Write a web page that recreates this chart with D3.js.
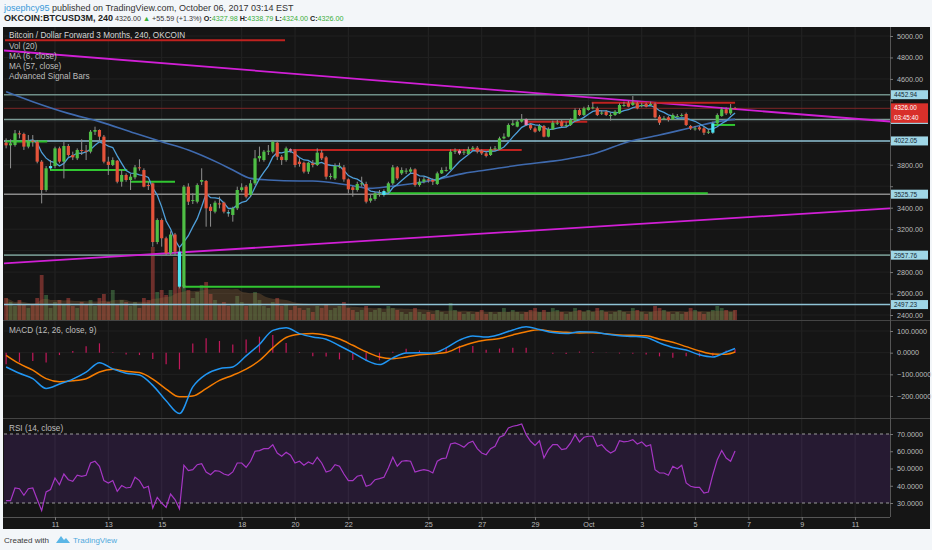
<!DOCTYPE html>
<html>
<head>
<meta charset="utf-8">
<script src="https://cdn.jsdelivr.net/npm/d3@7"></script>
<style>
  body { margin: 0; background: #f3f6f9; font-family: "Liberation Sans", Arial, sans-serif; }
  svg text { font-family: "Liberation Sans", Arial, sans-serif; }
</style>
</head>
<body>
<svg id="chart" width="932" height="550"></svg>
<script>
// ---- data (240 min bars, first bar Sep 9 04:00) ----
var firstBar = "2017-09-09T04:00";
var barHours = 4;

var openP = [4006,3981,3984,4093,4087,3969,4025,4015,3829,3565,
  3767,3788,3953,3829,3975,3891,3860,3938,3931,3922,
  4108,4124,4062,3829,3798,3838,3642,3705,3658,3683,
  3776,3751,3611,3627,3080,3285,3115,2975,3150,2990,
  2664,3596,3465,3456,3642,3649,3409,3363,3440,3447,
  3357,3332,3394,3565,3596,3518,3627,3860,3844,3922,
  3922,4006,3875,3844,3944,3931,3829,3819,3736,3813,
  3798,3913,3869,3689,3673,3788,3776,3664,3590,3565,
  3621,3621,3465,3481,3534,3518,3549,3627,3776,3720,
  3745,3736,3757,3611,3642,3664,3658,3621,3720,3751,
  3757,3922,3931,3913,3900,3944,3959,3931,3906,3891,
  3944,3944,4046,4062,4171,4155,4202,4223,4171,4139,
  4118,4161,4062,4130,4192,4202,4171,4171,4211,4310,
  4264,4310,4335,4326,4279,4295,4264,4264,4279,4357,
  4373,4357,4373,4357,4366,4366,4366,4248,4233,4242,
  4223,4254,4264,4273,4161,4139,4149,4139,4108,4099,
  4186,4254,4317,4279,4328];
var highP = [4046,4037,4124,4118,4099,4077,4077,4031,3844,3788,
  3844,3969,3969,4015,3993,3922,3953,4037,3984,4124,
  4155,4130,4077,3875,3869,3844,3751,3720,3714,3798,
  3851,3767,3642,3633,3301,3300,3130,3180,3165,3030,
  3611,3627,3534,3627,3767,3658,3434,3465,3503,3456,
  3378,3409,3596,3627,3611,3658,3938,3969,3938,3984,
  4031,4025,3891,3969,3953,3944,3860,3829,3829,3844,
  3953,3938,3882,3720,3813,3819,3798,3673,3602,3642,
  3689,3642,3518,3549,3565,3571,3642,3798,3788,3776,
  3767,3776,3767,3673,3689,3683,3673,3736,3776,3782,
  3944,3953,3944,3944,3969,3975,3975,3944,3922,3969,
  3975,4062,4093,4186,4223,4223,4273,4233,4186,4155,
  4180,4171,4149,4211,4223,4217,4202,4233,4326,4326,
  4341,4357,4379,4341,4310,4310,4286,4310,4373,4388,
  4397,4441,4388,4379,4379,4388,4379,4264,4254,4254,
  4279,4273,4279,4286,4171,4161,4161,4155,4130,4202,
  4279,4335,4335,4366,4339];
var lowP = [3953,3767,3969,4046,3938,3953,3969,3813,3440,3549,
  3751,3767,3813,3673,3875,3844,3844,3891,3844,3906,
  4077,4015,3813,3705,3788,3627,3596,3642,3565,3664,
  3745,3590,3565,3037,3060,3037,2959,2959,2959,2648,
  2648,3425,3434,3440,3611,3223,3223,3347,3394,3347,
  3316,3270,3378,3549,3487,3503,3611,3829,3829,3891,
  3906,3844,3798,3829,3913,3776,3782,3720,3714,3776,
  3788,3844,3664,3664,3658,3767,3642,3534,3503,3549,
  3596,3440,3447,3465,3503,3503,3534,3611,3658,3705,
  3714,3720,3596,3596,3627,3633,3611,3611,3714,3736,
  3751,3900,3891,3891,3891,3938,3906,3891,3869,3882,
  3931,3938,4037,4056,4161,4149,4192,4161,4124,4099,
  4108,4056,4056,4124,4171,4149,4149,4161,4202,4254,
  4254,4304,4317,4254,4264,4254,4211,4254,4273,4341,
  4335,4348,4317,4335,4335,4348,4233,4171,4217,4202,
  4217,4242,4248,4161,4124,4118,4118,4077,4087,4087,
  4180,4248,4264,4264,4324];
var closeP = [3981,4000,4093,4087,3969,4025,4015,3829,3565,3767,
  3788,3953,3829,3975,3891,3869,3938,3931,3922,4108,
  4124,4062,3829,3798,3844,3642,3705,3658,3689,3776,
  3767,3596,3602,3080,3285,3115,2975,3150,2990,2664,
  3596,3456,3471,3611,3658,3394,3369,3447,3434,3363,
  3347,3394,3565,3590,3503,3627,3860,3882,3922,3931,
  4015,3875,3844,3953,3931,3798,3807,3736,3819,3798,
  3913,3860,3689,3695,3788,3788,3664,3571,3565,3621,
  3627,3456,3487,3534,3534,3555,3627,3776,3673,3751,
  3745,3757,3611,3642,3664,3658,3642,3720,3751,3751,
  3922,3931,3906,3922,3944,3959,3922,3906,3882,3944,
  3953,4046,4062,4171,4186,4202,4223,4171,4139,4108,
  4161,4062,4130,4192,4192,4161,4171,4217,4310,4264,
  4326,4335,4335,4264,4286,4264,4264,4295,4357,4357,
  4341,4379,4326,4357,4341,4366,4242,4192,4233,4217,
  4264,4254,4264,4171,4139,4139,4130,4099,4108,4186,
  4264,4317,4279,4328,4326];
var volume = [2200,1800,1400,2000,1600,1200,1500,2200,4500,2500,
  1200,1800,2000,1500,2200,1400,1200,1800,1600,2000,
  1400,2200,2600,1800,3000,1600,2000,1800,1400,1800,
  1200,2200,2000,7300,2800,3000,2500,3000,6300,5000,
  3500,3000,2200,2800,3500,3800,2600,2000,1500,1800,
  1400,1600,2400,1800,1400,1600,2800,2000,1400,1200,
  1800,2200,1400,1600,1000,1400,1200,1000,1200,800,
  1400,1200,1600,1000,1200,1400,1800,1200,1000,800,
  1000,1400,800,1000,1200,800,1400,1200,1000,800,
  600,800,1200,800,600,800,600,1000,800,600,
  1700,1000,800,600,800,600,800,1000,600,800,
  600,800,1200,800,1000,800,600,800,1000,1200,
  800,1000,800,1200,1000,800,600,800,1200,1000,
  800,1000,800,1200,1000,800,600,800,1000,800,
  600,1200,1000,800,600,800,1400,1200,1000,800,
  600,800,600,800,1200,1000,800,600,800,1000,
  1400,1200,1000,800,1000];
// Advanced Signal Bars: bars painted cyan / pink
var cyanBars = [10, 39, 50, 85, 159];
var pinkBars = [64, 102, 117];

// MA (57): bar index -> value
var ma57Idx = [0,6,14,21,29,35,41,48,51,55,59,66,69,77,82,86,92,98,103,108,114,122,125,129,132,140,147,155,160,164];
var ma57Val = [4481,4388,4279,4202,4093,4015,3938,3813,3751,3673,3658,3649,3649,3611,3580,3596,3627,3673,3720,3751,3788,3829,3844,3875,3900,4015,4077,4155,4202,4223];

// MACD (12,26,9) read every third bar
var macdIdx = [0,3,6,9,12,15,18,21,24,27,30,33,36,39,42,45,48,51,54,57,60,63,66,69,72,75,78,81,84,87,90,93,96,99,102,105,108,111,114,117,120,123,126,129,132,135,138,141,144,147,150,153,156,159,162,164];
var macdVal = [-66,-95,-120,-165,-145,-122,-90,-46,-75,-95,-103,-151,-222,-281,-158,-100,-74,-66,-15,38,103,115,88,72,62,32,0,-35,-55,-24,-2,0,-2,22,58,77,72,84,105,120,107,93,88,96,95,86,78,75,70,45,24,12,-10,-20,3,19];
var signalVal = [-12,-51,-81,-120,-134,-130,-120,-89,-77,-86,-92,-122,-168,-204,-200,-166,-128,-104,-76,-36,22,70,85,88,80,63,34,4,-20,-28,-20,-10,-5,1,26,46,58,65,82,97,106,98,94,91,92,87,82,80,78,62,48,28,8,-6,-7,3];

// RSI (14) per bar
var rsiVal = [31.4,31.4,38.7,38.3,34.5,38.3,38.7,32.0,25.6,36.4,
  37.8,44.5,40.6,46.8,43.5,42.6,46.1,45.5,46.1,53.2,
  54.2,51.3,43.0,41.6,43.0,36.8,40.1,38.7,39.1,44.9,
  43.0,38.7,39.7,27.1,33.3,30.0,27.5,35.2,32.0,26.6,
  51.9,48.8,49.3,52.2,52.8,48.0,46.4,48.8,48.4,46.8,
  46.1,48.0,53.2,53.2,50.7,54.2,60.0,60.4,61.5,61.5,
  63.8,59.0,57.1,59.4,57.7,53.2,54.2,51.9,53.8,52.6,
  56.5,53.2,48.0,48.8,52.2,51.3,46.8,43.0,43.0,45.5,
  46.1,39.7,40.6,43.5,44.1,44.9,50.3,56.5,51.3,54.2,
  54.6,54.2,48.0,48.8,49.3,48.8,47.4,54.2,55.7,56.1,
  64.2,64.8,63.8,62.3,64.8,65.8,61.5,59.0,58.0,61.5,
  62.9,68.1,69.3,73.5,74.5,75.0,75.8,69.6,65.8,63.4,
  66.1,56.1,60.9,63.8,63.8,60.9,61.5,64.8,69.6,65.4,
  68.1,68.7,68.7,62.9,63.8,60.9,59.0,60.4,66.1,65.4,
  65.8,66.7,64.2,65.4,62.9,63.8,49.3,47.4,47.4,46.1,
  51.3,49.9,51.9,41.6,39.7,39.1,39.1,35.8,36.4,46.4,
  55.1,60.4,56.1,54.2,60.2];

// drawings on the chart
var levels = [4452.94, 4222.17, 4022.05, 3525.75, 2957.76, 2497.23];
var lastPrice = 4326.00;
var countdown = "03:45:40";
var trendFrom = ["2017-09-09T02:06", "2017-09-09T02:06"];
var trendTo = ["2017-10-12T07:26", "2017-10-12T07:26"];
var trendP0 = [4865, 2881];
var trendP1 = [4203, 3394];
var redSegFrom = ["2017-09-09T03:00", "2017-09-19T22:00", "2017-09-28T17:00", "2017-10-01T03:00"];
var redSegTo = ["2017-09-19T15:00", "2017-09-28T12:00", "2017-09-30T23:00", "2017-10-06T12:00"];
var redSegP = [4960, 3938, 4202, 4379];
var greenSegFrom = ["2017-09-09T03:00", "2017-09-10T19:30", "2017-09-13T19:30", "2017-09-15T19:00", "2017-09-23T07:00", "2017-10-05T16:00"];
var greenSegTo = ["2017-09-10T17:00", "2017-09-13T17:00", "2017-09-15T12:00", "2017-09-23T04:30", "2017-10-05T11:30", "2017-10-06T12:00"];
var greenSegP = [4018, 3751, 3642, 2664, 3534, 4171];

// axes
var priceTicks = [2400, 2600, 2800, 3000, 3200, 3400, 3600, 3800, 4000, 4200, 4400, 4600, 4800, 5000];
var macdTicks = [100, 0, -100, -200];
var rsiTicks = [70, 60, 50, 40, 30];
var dayTicks = ["2017-09-11", "2017-09-13", "2017-09-15", "2017-09-18", "2017-09-20", "2017-09-22", "2017-09-25",
  "2017-09-27", "2017-09-29", "2017-10-01", "2017-10-03", "2017-10-05", "2017-10-07", "2017-10-09", "2017-10-11"];
var dayLabels = ["11", "13", "15", "18", "20", "22", "25", "27", "29", "Oct", "3", "5", "7", "9", "11"];

// ---- layout ----
var plotL = 4, plotR = 890;
var priceTop = 27, priceBot = 320;
var macdTop = 321, macdBot = 418;
var rsiTop = 419, rsiBot = 517;

var parseT = d3.utcParse("%Y-%m-%dT%H:%M");
var parseD = d3.utcParse("%Y-%m-%d");
var t0 = parseT(firstBar).getTime();
var barTime = function(i) { return new Date(t0 + i * barHours * 3600000); };

var x = d3.scaleUtc()
  .domain([parseT("2017-09-09T02:06"), parseT("2017-10-12T07:26")])
  .range([plotL, plotR]);
var yP = d3.scaleLinear().domain([2400, 5000]).range([315, 36]);
var yV = d3.scaleLinear().domain([0, 7300]).range([priceBot, priceBot - 73]);
var yM = d3.scaleLinear().domain([-200, 100]).range([396, 331]);
var yR = d3.scaleLinear().domain([30, 70]).range([503, 434]);

var svg = d3.select("#chart");

// header
var head1 = svg.append("text").attr("x", 4).attr("y", 10.5).attr("font-size", "9px").attr("fill", "#333");
head1.append("tspan").attr("fill", "#3a9ad9").text("josephcy95");
head1.append("tspan").text(" published on TradingView.com, October 06, 2017 03:14 EST");

var head2 = svg.append("text").attr("x", 4).attr("y", 21).attr("font-size", "7.2px").attr("fill", "#333");
head2.append("tspan").attr("font-weight", "bold").attr("font-size", "9px").attr("fill", "#222").text("OKCOIN:BTCUSD3M, 240");
head2.append("tspan").text(" 4326.00 ");
head2.append("tspan").attr("fill", "#3aae3a").text("\u25B2");
head2.append("tspan").text(" +55.59 (+1.3%) ");
[["O:", "4327.98 "], ["H:", "4338.79 "], ["L:", "4324.00 "], ["C:", "4326.00"]].forEach(function(p) {
  head2.append("tspan").attr("font-weight", "bold").attr("fill", "#222").text(p[0]);
  head2.append("tspan").attr("fill", "#3aae3a").text(p[1]);
});

// dark chart background
svg.append("rect").attr("x", 3).attr("y", priceTop).attr("width", 927).attr("height", 502).attr("fill", "#151515");

// clip paths for the panes
var defs = svg.append("defs");
defs.append("clipPath").attr("id", "clipPrice").append("rect")
  .attr("x", plotL).attr("y", priceTop).attr("width", plotR - plotL).attr("height", priceBot - priceTop);
defs.append("clipPath").attr("id", "clipMacd").append("rect")
  .attr("x", plotL).attr("y", macdTop).attr("width", plotR - plotL).attr("height", macdBot - macdTop);
defs.append("clipPath").attr("id", "clipRsi").append("rect")
  .attr("x", plotL).attr("y", rsiTop).attr("width", plotR - plotL).attr("height", rsiBot - rsiTop);

// vertical grid
var dayDates = dayTicks.map(parseD);
svg.append("g").selectAll("line").data(dayDates).enter().append("line")
  .attr("x1", d => x(d)).attr("x2", d => x(d))
  .attr("y1", priceTop).attr("y2", rsiBot)
  .attr("stroke", "#242424").attr("stroke-width", 1);

// horizontal grid
svg.append("g").selectAll("line").data(priceTicks).enter().append("line")
  .attr("x1", plotL).attr("x2", plotR).attr("y1", d => yP(d)).attr("y2", d => yP(d))
  .attr("stroke", "#212121");
svg.append("g").selectAll("line").data(macdTicks).enter().append("line")
  .attr("x1", plotL).attr("x2", plotR).attr("y1", d => yM(d)).attr("y2", d => yM(d))
  .attr("stroke", "#212121");

// ---------- price pane ----------
var price = svg.append("g").attr("clip-path", "url(#clipPrice)");
var bars = d3.range(closeP.length);

// volume
price.append("g").selectAll("rect").data(bars).enter().append("rect")
  .attr("x", i => x(barTime(i)) - 1.9)
  .attr("width", 3.8)
  .attr("y", i => yV(volume[i]))
  .attr("height", i => yV(0) - yV(volume[i]))
  .attr("fill", i => closeP[i] >= openP[i] ? "rgba(90,160,90,0.42)" : "rgba(220,80,70,0.45)");

// volume MA(20) as an area
var volMa = bars.map(function(i) {
  var s = d3.max([0, i - 19]);
  return d3.mean(volume.slice(s, i + 1));
});
price.append("path")
  .datum(bars)
  .attr("d", d3.area().x(i => x(barTime(i))).y0(yV(0)).y1(i => yV(volMa[i])).curve(d3.curveMonotoneX))
  .attr("fill", "rgba(140,100,60,0.35)");

// level lines
var levelColors = ["#6f8f88", "#7d9c97", "#8fc3d6", "#8a8a8a", "#6f8f88", "#8fc3d6"];
price.append("g").selectAll("line").data(levels).enter().append("line")
  .attr("x1", plotL).attr("x2", plotR)
  .attr("y1", d => yP(d)).attr("y2", d => yP(d))
  .attr("stroke", (d, i) => levelColors[i]).attr("stroke-width", 1.6);

// last price line
price.append("line").attr("x1", plotL).attr("x2", plotR)
  .attr("y1", yP(lastPrice)).attr("y2", yP(lastPrice))
  .attr("stroke", "#7d2626").attr("stroke-width", 1);

// trend lines
price.append("g").selectAll("line").data(trendP0).enter().append("line")
  .attr("x1", (d, i) => x(parseT(trendFrom[i]))).attr("y1", (d, i) => yP(trendP0[i]))
  .attr("x2", (d, i) => x(parseT(trendTo[i]))).attr("y2", (d, i) => yP(trendP1[i]))
  .attr("stroke", "#d11fd6").attr("stroke-width", 1.8);

// red and green segments
price.append("g").selectAll("line").data(redSegP).enter().append("line")
  .attr("x1", (d, i) => x(parseT(redSegFrom[i]))).attr("x2", (d, i) => x(parseT(redSegTo[i])))
  .attr("y1", d => yP(d)).attr("y2", d => yP(d))
  .attr("stroke", "#c0221f").attr("stroke-width", 2);
price.append("g").selectAll("line").data(greenSegP).enter().append("line")
  .attr("x1", (d, i) => x(parseT(greenSegFrom[i]))).attr("x2", (d, i) => x(parseT(greenSegTo[i])))
  .attr("y1", d => yP(d)).attr("y2", d => yP(d))
  .attr("stroke", "#31c631").attr("stroke-width", 2);

// MA 57
price.append("path")
  .datum(ma57Idx)
  .attr("d", d3.line().x(i => x(barTime(i))).y((i, k) => yP(ma57Val[k])).curve(d3.curveMonotoneX))
  .attr("fill", "none").attr("stroke", "#3f6aae").attr("stroke-width", 1.6);

// MA 6 from closes
var ma6 = bars.filter(i => i >= 5).map(i => [i, d3.mean(closeP.slice(i - 5, i + 1))]);
price.append("path")
  .datum(ma6)
  .attr("d", d3.line().x(d => x(barTime(d[0]))).y(d => yP(d[1])))
  .attr("fill", "none").attr("stroke", "#4f9fd9").attr("stroke-width", 1.3);

// candles
function barColor(i) {
  if (cyanBars.indexOf(i) >= 0) return "#4de3f2";
  if (pinkBars.indexOf(i) >= 0) return "#f27fb0";
  return closeP[i] >= openP[i] ? "#4fbf45" : "#e4533a";
}
var candle = price.append("g").selectAll("g").data(bars).enter().append("g");
candle.append("line")
  .attr("x1", i => x(barTime(i))).attr("x2", i => x(barTime(i)))
  .attr("y1", i => yP(highP[i])).attr("y2", i => yP(lowP[i]))
  .attr("stroke", "#8f8f8f").attr("stroke-width", 1);
candle.append("rect")
  .attr("x", i => x(barTime(i)) - 1.6)
  .attr("width", 3.2)
  .attr("y", i => yP(Math.max(openP[i], closeP[i])))
  .attr("height", i => Math.max(1, Math.abs(yP(openP[i]) - yP(closeP[i]))))
  .attr("fill", barColor);

// legend
var legend = ["Vol (20)", "MA (6, close)", "MA (57, close)", "Advanced Signal Bars"];
svg.append("text").attr("x", 9).attr("y", 38).attr("font-size", "8.2px").attr("fill", "#d6d6d6")
  .text("Bitcoin / Dollar Forward 3 Months, 240, OKCOIN");
svg.append("g").selectAll("text").data(legend).enter().append("text")
  .attr("x", 9).attr("y", (d, i) => 48.5 + i * 10.2)
  .attr("font-size", "8.2px").attr("fill", "#bdbdbd").text(d => d);

// ---------- MACD pane ----------
var macd = svg.append("g").attr("clip-path", "url(#clipMacd)");
macd.append("g").selectAll("line").data(macdIdx).enter().append("line")
  .attr("x1", i => x(barTime(i))).attr("x2", i => x(barTime(i)))
  .attr("y1", yM(0)).attr("y2", (i, k) => yM(macdVal[k] - signalVal[k]))
  .attr("stroke", "#c2185b").attr("stroke-width", 1.2);
macd.append("path").datum(macdIdx)
  .attr("d", d3.line().x(i => x(barTime(i))).y((i, k) => yM(signalVal[k])).curve(d3.curveMonotoneX))
  .attr("fill", "none").attr("stroke", "#f57c00").attr("stroke-width", 1.5);
macd.append("path").datum(macdIdx)
  .attr("d", d3.line().x(i => x(barTime(i))).y((i, k) => yM(macdVal[k])).curve(d3.curveMonotoneX))
  .attr("fill", "none").attr("stroke", "#2196f3").attr("stroke-width", 1.5);
svg.append("text").attr("x", 9).attr("y", 333).attr("font-size", "8.2px").attr("fill", "#bdbdbd")
  .text("MACD (12, 26, close, 9)");

// ---------- RSI pane ----------
var rsi = svg.append("g").attr("clip-path", "url(#clipRsi)");
rsi.append("rect").attr("x", plotL).attr("width", plotR - plotL)
  .attr("y", yR(70)).attr("height", yR(30) - yR(70))
  .attr("fill", "rgba(110,50,170,0.2)");
rsi.append("g").selectAll("line").data([70, 30]).enter().append("line")
  .attr("x1", plotL).attr("x2", plotR).attr("y1", d => yR(d)).attr("y2", d => yR(d))
  .attr("stroke", "#9a9a9a").attr("stroke-dasharray", "3,3");
rsi.append("path").datum(bars)
  .attr("d", d3.line().x(i => x(barTime(i))).y(i => yR(rsiVal[i])))
  .attr("fill", "none").attr("stroke", "#a636c4").attr("stroke-width", 1.2);
svg.append("text").attr("x", 9).attr("y", 431).attr("font-size", "8.2px").attr("fill", "#bdbdbd")
  .text("RSI (14, close)");

// pane borders
svg.append("g").selectAll("line").data([priceBot + 0.5, macdBot + 0.5]).enter().append("line")
  .attr("x1", 3).attr("x2", 930).attr("y1", d => d).attr("y2", d => d)
  .attr("stroke", "#444");
svg.append("line").attr("x1", plotR + 0.5).attr("x2", plotR + 0.5).attr("y1", priceTop).attr("y2", rsiBot)
  .attr("stroke", "#555");
svg.append("line").attr("x1", 3).attr("x2", plotR).attr("y1", rsiBot + 0.5).attr("y2", rsiBot + 0.5)
  .attr("stroke", "#555");

// ---------- axes ----------
function styleAxis(g) {
  g.select(".domain").remove();
  g.selectAll(".tick line").attr("stroke", "#777");
  g.selectAll(".tick text").attr("fill", "#bdbdbd").attr("font-size", "7.2px")
    .attr("font-family", "Liberation Sans, Arial, sans-serif");
}
// price labels that sit under an axis box are dropped
function covered(t) {
  var yt = yP(t);
  var hit = levels.some(l => Math.abs(yt - yP(l)) < 8);
  var yc = yP(lastPrice);
  return hit || (yt > yc - 8 && yt < yc + 18);
}
var fmt2 = d3.format(".2f");
svg.append("g").attr("transform", "translate(" + plotR + ",0)")
  .call(d3.axisRight(yP).tickValues(priceTicks).tickFormat(fmt2).tickSize(3).tickPadding(4))
  .call(styleAxis)
  .call(g => g.selectAll(".tick text").filter(t => covered(t)).remove());
svg.append("g").attr("transform", "translate(" + plotR + ",0)")
  .call(d3.axisRight(yM).tickValues(macdTicks).tickFormat(d3.format(".4f")).tickSize(3).tickPadding(4))
  .call(styleAxis);
svg.append("g").attr("transform", "translate(" + plotR + ",0)")
  .call(d3.axisRight(yR).tickValues(rsiTicks).tickFormat(d3.format(".4f")).tickSize(3).tickPadding(4))
  .call(styleAxis);
svg.append("g").attr("transform", "translate(0," + rsiBot + ")")
  .call(d3.axisBottom(x).tickValues(dayDates).tickFormat((d, i) => dayLabels[i]).tickSize(3).tickPadding(2))
  .call(styleAxis);

// level labels on the price axis
var lab = svg.append("g").selectAll("g").data(levels).enter().append("g");
lab.append("rect").attr("x", plotR + 1).attr("y", d => yP(d) - 4.5).attr("width", 37).attr("height", 9)
  .attr("fill", "#9fd6e6");
lab.append("text").attr("x", plotR + 4).attr("y", d => yP(d) + 2.4)
  .attr("font-size", "6.4px").attr("fill", "#132833").text(d => fmt2(d));

var cur = svg.append("g");
cur.append("rect").attr("x", plotR + 1).attr("y", yP(lastPrice) - 5).attr("width", 37).attr("height", 19.5)
  .attr("fill", "#d8302a");
cur.append("text").attr("x", plotR + 4).attr("y", yP(lastPrice) + 1.2)
  .attr("font-size", "6.3px").attr("fill", "#fff").text(fmt2(lastPrice));
cur.append("text").attr("x", plotR + 4).attr("y", yP(lastPrice) + 11.8)
  .attr("font-size", "6.3px").attr("fill", "#fff").text(countdown);

// footer
svg.append("text").attr("x", 4).attr("y", 543).attr("font-size", "8px").attr("fill", "#3a3a3a").text("Created with");
var logo = svg.append("g").attr("transform", "translate(56,535)");
logo.append("path").attr("d", "M0,8 L5,1 L8,5 L10,3 L14,8 Z").attr("fill", "#5bb6e6");
svg.append("text").attr("x", 73).attr("y", 543).attr("font-size", "8px").attr("fill", "#4fa9dd").text("TradingView");
</script>
</body>
</html>
